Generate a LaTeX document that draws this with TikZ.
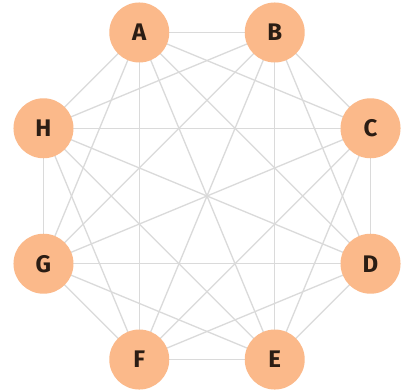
\documentclass[tikz,border=0pt]{standalone}
\usepackage{fontspec}
\setmainfont{Fira Sans}
\usetikzlibrary{backgrounds}
\definecolor{peach}{HTML}{FBB98A}
\definecolor{edgegray}{HTML}{DADADA}
\definecolor{txt}{HTML}{2B1D14}
\begin{document}
\begin{tikzpicture}[x=1pt,y=-1pt,
  vert/.style={circle,fill=peach,minimum size=60pt,inner sep=0pt,text=txt,font=\fontsize{24}{24}\selectfont\bfseries},
  edge/.style={draw=edgegray,line width=1.3pt}]
\useasboundingbox (0,0) rectangle (403,390);
\def\cx{207}\def\cy{196}\def\R{177}
\foreach \n/\a in {A/112.5,B/67.5,C/22.5,D/-22.5,E/-67.5,F/-112.5,G/-157.5,H/157.5}{
  \node[vert] (n\n) at ({\cx+\R*cos(\a)},{\cy-\R*sin(\a)}) {\n};
}
\begin{scope}[on background layer]
\fill[white] (0,0) rectangle (403,390);
\foreach \u/\rest in {A/{B,C,D,E,F,G,H},B/{C,D,E,F,G,H},C/{D,E,F,G,H},D/{E,F,G,H},E/{F,G,H},F/{G,H},G/{H}}{
  \foreach \v in \rest { \draw[edge] (n\u.center) -- (n\v.center); }
}
\end{scope}
\end{tikzpicture}
\end{document}
